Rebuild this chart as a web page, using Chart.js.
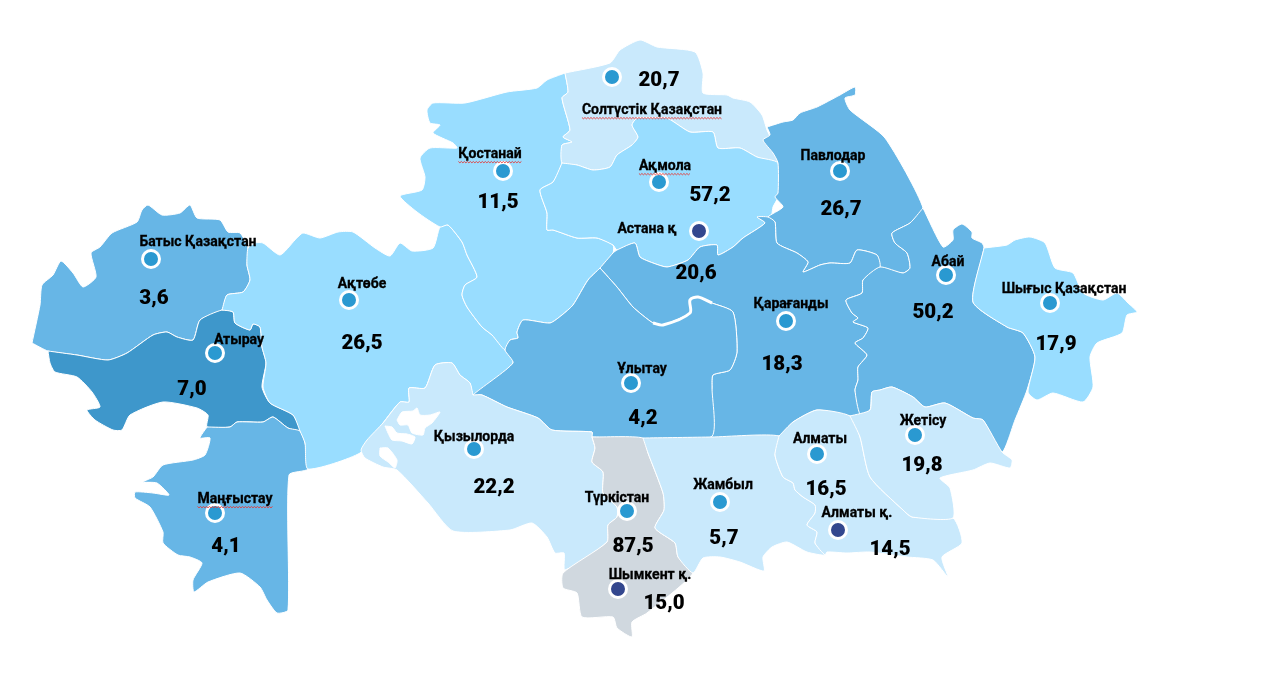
<!DOCTYPE html>
<html><head><meta charset="utf-8">
<script src="https://cdn.jsdelivr.net/npm/chart.js@4"></script>
<style>html,body{margin:0;padding:0;background:#fff;overflow:hidden}#w{width:1280px;height:689px}</style>
</head><body><div id="w"><canvas id="c"></canvas></div>
<script>
// Region names and values
const regionNames = ["Батыс Қазақстан","Атырау","Ақтөбе","Маңғыстау","Қостанай","Солтүстік Қазақстан","Ақмола","Астана қ","Павлодар","Абай","Шығыс Қазақстан","Қарағанды","Ұлытау","Қызылорда","Түркістан","Жамбыл","Алматы","Алматы қ.","Жетісу","Шымкент қ."];
const regionValues = ["3,6","7,0","26,5","4,1","11,5","20,7","57,2","20,6","26,7","50,2","17,9","18,3","4,2","22,2","87,5","5,7","16,5","14,5","19,8","15,0"];
const cityFlags = [0,0,0,0,0,0,0,1,0,0,0,0,0,0,0,0,0,1,0,1];
const spellFlags = [0,0,0,1,1,1,1,0,0,0,0,0,0,0,0,0,0,0,0,0];
const markerX = [151,215,349,215,503,612,659,699,840,946,1050,786,631,474,627,720,817,838,915,618];
const markerY = [259,353,300,513,171,77,182,231,171,275,303,321,383,449,511,502,454,530,435,589];
const nameX = [198,239,362,235,490,652,665,647,833,948,1064,791,642,474,617,723,820,857,923,650];
const nameY = [242,340,284,499,154,110,166,229,156,262,289,304,369,437,498,485,439,513,421,575];
const valueX = [154,192,362,226,498,659,710,696,841,933,1056,782,643,494,633,724,826,890,922,664];
const valueY = [299,390,344,547,203,81,196,274,210,313,345,365,419,488,547,539,490,550,466,604];

// Region outlines
const batys = [[32,343],[40,305],[42,285],[53,275],[61,261],[73,273],[83,287],[96,277],[91,253],[100,247],[112,233],[137,222],[142,210],[148,205],[162,215],[180,213],[190,205],[197,218],[220,220],[228,232],[240,233],[248,248],[247,265],[250,280],[243,292],[227,295],[222,310],[200,320],[193,340],[177,337],[167,332],[153,335],[127,353],[108,360],[77,355],[48,351]];
const atyrau = [[48,351],[77,355],[108,360],[127,353],[153,335],[167,332],[177,337],[193,340],[200,320],[222,310],[233,312],[235,323],[250,330],[253,324],[260,327],[262,347],[266,363],[262,387],[270,403],[293,415],[300,431],[288,428],[273,417],[263,422],[237,422],[230,427],[207,427],[208,415],[197,408],[163,402],[130,415],[122,430],[113,430],[95,420],[87,410],[100,407],[92,392],[77,377],[55,372],[50,363]];
const mangystau = [[207,427],[230,427],[237,422],[263,422],[273,417],[288,428],[300,431],[305,443],[308,469],[289,475],[288,610],[277,613],[267,600],[260,587],[240,573],[208,582],[194,592],[193,580],[202,563],[190,557],[178,555],[163,543],[163,532],[150,507],[135,498],[135,492],[153,493],[169,495],[157,483],[143,482],[153,477],[163,465],[193,460],[205,455],[210,438],[200,438]];
const aktobe = [[222,310],[227,295],[243,292],[250,280],[247,265],[248,248],[255,243],[263,243],[280,255],[295,240],[303,233],[320,238],[338,232],[353,232],[375,248],[390,256],[400,243],[412,251],[433,248],[440,227],[448,225],[462,242],[467,255],[477,277],[465,285],[462,295],[467,307],[482,327],[492,335],[505,350],[513,363],[473,395],[470,383],[460,375],[452,363],[435,365],[425,388],[409,388],[409,402],[400,402],[383,423],[360,453],[308,469],[305,443],[300,431],[293,415],[270,403],[263,387],[266,363],[262,347],[260,327],[253,324],[250,330],[235,323],[233,312]];
const kostanay = [[565,73],[547,80],[537,88],[507,92],[465,103],[433,103],[427,110],[430,123],[440,125],[433,133],[453,143],[457,148],[430,148],[420,158],[425,177],[422,190],[400,196],[417,212],[440,227],[448,225],[462,242],[467,255],[477,277],[465,285],[462,295],[467,307],[482,327],[492,335],[505,350],[510,340],[518,338],[517,332],[523,320],[550,323],[562,315],[573,305],[588,280],[600,268],[613,253],[613,245],[597,238],[577,238],[553,230],[547,230],[547,213],[540,190],[553,182],[562,163],[562,145],[572,142],[563,137],[570,130],[562,98],[568,92]];
const north = [[565,73],[610,63],[620,50],[640,40],[657,47],[695,52],[703,73],[703,93],[727,95],[733,98],[750,102],[762,115],[767,130],[773,143],[778,163],[757,157],[740,148],[718,148],[713,132],[690,132],[667,118],[650,118],[637,118],[632,125],[638,137],[632,145],[617,155],[610,167],[593,170],[577,165],[562,163],[562,145],[572,142],[563,137],[570,130],[562,98],[568,92]];
const akmola = [[562,163],[577,165],[593,170],[610,167],[617,155],[632,145],[638,137],[632,125],[637,118],[650,118],[667,118],[690,132],[713,132],[718,148],[740,148],[757,157],[778,163],[778,197],[773,207],[770,222],[757,217],[765,223],[743,238],[733,247],[718,255],[717,245],[700,247],[688,260],[667,267],[653,263],[640,257],[635,243],[617,250],[613,245],[597,238],[577,238],[553,230],[547,230],[547,213],[540,190],[553,182]];
const pavlodar = [[767,127],[783,122],[793,120],[800,113],[817,107],[840,95],[855,87],[855,95],[845,98],[850,110],[885,138],[923,208],[910,223],[892,233],[895,243],[907,253],[910,268],[903,273],[880,267],[877,255],[857,250],[850,263],[830,263],[820,265],[803,272],[808,262],[797,253],[777,243],[775,222],[768,217],[783,207],[775,197],[778,193],[778,163],[773,153],[763,140],[770,135]];
const karaganda = [[600,268],[613,253],[617,250],[635,243],[640,257],[653,263],[667,267],[688,260],[700,247],[717,245],[718,255],[733,247],[743,238],[765,223],[757,217],[768,217],[775,222],[777,243],[797,253],[808,262],[803,272],[820,265],[830,263],[850,263],[857,250],[877,255],[880,267],[863,280],[862,293],[846,300],[852,313],[858,318],[853,322],[868,328],[863,338],[855,343],[867,355],[858,367],[858,380],[855,390],[860,414],[850,416],[817,410],[793,422],[779,436],[711,437],[712,387],[713,375],[730,370],[737,352],[733,312],[712,303],[698,297],[690,300],[690,313],[663,325],[653,323],[633,307],[617,287]];
const ulytau = [[600,268],[617,287],[633,307],[653,323],[663,325],[690,313],[690,300],[698,297],[712,303],[733,312],[737,352],[730,370],[713,375],[712,387],[711,437],[592,437],[592,432],[552,430],[538,418],[507,407],[482,395],[473,395],[513,363],[505,350],[510,340],[518,338],[517,332],[523,320],[550,323],[562,315],[573,305],[588,280]];
const abai = [[923,208],[943,247],[953,240],[953,230],[962,224],[972,232],[972,238],[982,243],[984,248],[973,302],[1007,327],[1023,333],[1035,357],[1027,390],[1015,420],[1002,452],[983,420],[973,418],[945,403],[925,407],[913,397],[892,387],[880,390],[872,392],[870,410],[860,414],[855,390],[858,380],[858,367],[867,355],[855,343],[863,338],[868,328],[853,322],[858,318],[852,313],[846,300],[862,293],[863,280],[880,267],[903,273],[910,268],[907,253],[895,243],[892,233],[910,223]];
const east = [[984,248],[1007,245],[1015,240],[1030,237],[1045,243],[1055,268],[1073,273],[1083,293],[1103,300],[1117,293],[1128,303],[1137,312],[1127,315],[1122,333],[1097,343],[1090,357],[1093,387],[1083,402],[1053,393],[1037,400],[1028,392],[1035,357],[1023,333],[1007,327],[973,302]];
const zhetisu = [[850,416],[870,410],[872,392],[880,390],[892,387],[913,397],[925,407],[945,403],[973,418],[983,420],[1002,452],[1012,460],[1010,468],[990,463],[973,470],[940,478],[950,488],[953,518],[912,517],[903,510],[870,477],[860,437]];
const almaty = [[779,436],[793,422],[817,410],[850,416],[860,437],[870,477],[903,510],[912,517],[953,518],[962,543],[942,557],[948,577],[933,560],[907,557],[870,552],[847,553],[827,552],[825,555],[815,543],[817,532],[807,525],[815,513],[815,505],[803,497],[795,490],[793,483],[783,477],[775,455]];
const zhambyl = [[643,438],[712,437],[779,436],[775,455],[783,477],[793,483],[795,490],[803,497],[815,505],[815,513],[807,525],[817,532],[815,543],[825,555],[807,552],[787,542],[772,547],[763,557],[764,571],[740,562],[720,557],[703,558],[693,573],[678,557],[675,543],[655,528],[664,510],[663,493],[648,453]];
const turkistan = [[592,437],[643,438],[648,453],[663,493],[664,510],[655,528],[675,543],[678,557],[693,573],[647,613],[632,622],[632,637],[617,628],[613,617],[582,617],[577,593],[563,588],[563,573],[607,542],[608,525],[617,517],[617,507],[603,493],[603,472],[592,462],[595,448]];
const kyzylorda = [[473,395],[482,395],[507,407],[538,418],[552,430],[592,432],[592,437],[595,448],[592,462],[603,472],[603,493],[617,507],[617,517],[608,525],[607,542],[565,570],[564,553],[555,553],[547,537],[532,523],[510,530],[453,531],[428,503],[397,470],[383,467],[365,458],[361,450],[367,440],[383,423],[400,402],[409,402],[409,388],[425,388],[435,365],[452,363],[460,375],[470,383]];
const aral1 = [[397,420],[402,412],[413,411],[417,408],[420,415],[430,415],[440,412],[432,423],[425,428],[423,435],[412,433],[408,425],[400,425]];
const aral2 = [[385,426],[392,427],[397,433],[407,434],[415,437],[412,444],[402,441],[392,440],[388,433]];
const aral3 = [[380,448],[388,448],[397,460],[395,468],[388,462],[380,456]];
const river = [[653,323],[663,325],[690,313],[690,300],[698,297],[712,303]];

const C1="#C9E9FC",C2="#99DDFF",C3="#67B6E6",C4="#3E97CB",CG="#D0D8DF",WH="#FFFFFF";
const shapes=[[batys,C3],[atyrau,C4],[mangystau,C3],[aktobe,C2],[kostanay,C2],[north,C1],[akmola,C2],[pavlodar,C3],[karaganda,C3],[ulytau,C3],[abai,C3],[east,C2],[kyzylorda,C1],[turkistan,CG],[zhambyl,C1],[almaty,C1],[zhetisu,C1],[aral1,WH],[aral2,WH],[aral3,WH]];
const toPts=a=>a.map(p=>({x:p[0],y:p[1]}));
const datasets=[{
  label:"markers",data:markerX.map((x,i)=>({x,y:markerY[i]})),showLine:false,
  pointRadius:8.5,pointBorderWidth:3,pointBorderColor:"#FFFFFF",
  pointBackgroundColor:cityFlags.map(f=>f?"#33478E":"#2A99D1"),order:0
},{
  label:"river",data:toPts(river),showLine:true,pointRadius:0,borderColor:"#FFFFFF",borderWidth:3,fill:false,order:1,tension:0.3
}];
shapes.forEach((s,i)=>{
  const closed=s[0].concat([s[0][0]]);
  datasets.push({label:"r"+i,data:toPts(closed),showLine:true,pointRadius:0,
    borderColor:"#FFFFFF",borderWidth:1,backgroundColor:s[1],fill:"shape",tension:0.2,order:100-i});
});

const textPlugin={id:"mapText",afterDatasetsDraw(ch){
  const {ctx,scales:{x,y}}=ch;
  ctx.save();ctx.textAlign="center";ctx.textBaseline="middle";ctx.fillStyle="#000";
  regionNames.forEach((n,i)=>{
    const px=x.getPixelForValue(nameX[i]),py=y.getPixelForValue(nameY[i]);
    ctx.font="bold 14px Roboto";
    ctx.fillStyle="#000";ctx.strokeStyle="#000";ctx.lineWidth=0.3;
    ctx.fillText(n,px,py);ctx.strokeText(n,px,py);
    if(spellFlags[i]){
      const w=ctx.measureText(n).width;
      ctx.strokeStyle="#E53935";ctx.lineWidth=0.9;ctx.beginPath();
      for(let k=0,xx=px-w/2;xx<=px+w/2;xx+=1.5,k++){const yy=py+7.5+(k%2?1.3:0);k?ctx.lineTo(xx,yy):ctx.moveTo(xx,yy);}
      ctx.stroke();
    }
    ctx.font="900 20.5px Roboto";
    ctx.fillStyle="#000";ctx.fillText(regionValues[i],x.getPixelForValue(valueX[i]),y.getPixelForValue(valueY[i]));
  });
  ctx.restore();
}};

new Chart(document.getElementById("c"),{type:"scatter",data:{datasets},plugins:[textPlugin],options:{
  responsive:true,maintainAspectRatio:false,animation:false,
  layout:{padding:0,autoPadding:false},
  plugins:{legend:{display:false},tooltip:{enabled:false},title:{display:false}},
  scales:{x:{type:"linear",min:0,max:1280,display:false},y:{type:"linear",min:0,max:689,reverse:true,display:false}}
}});
</script></body></html>
